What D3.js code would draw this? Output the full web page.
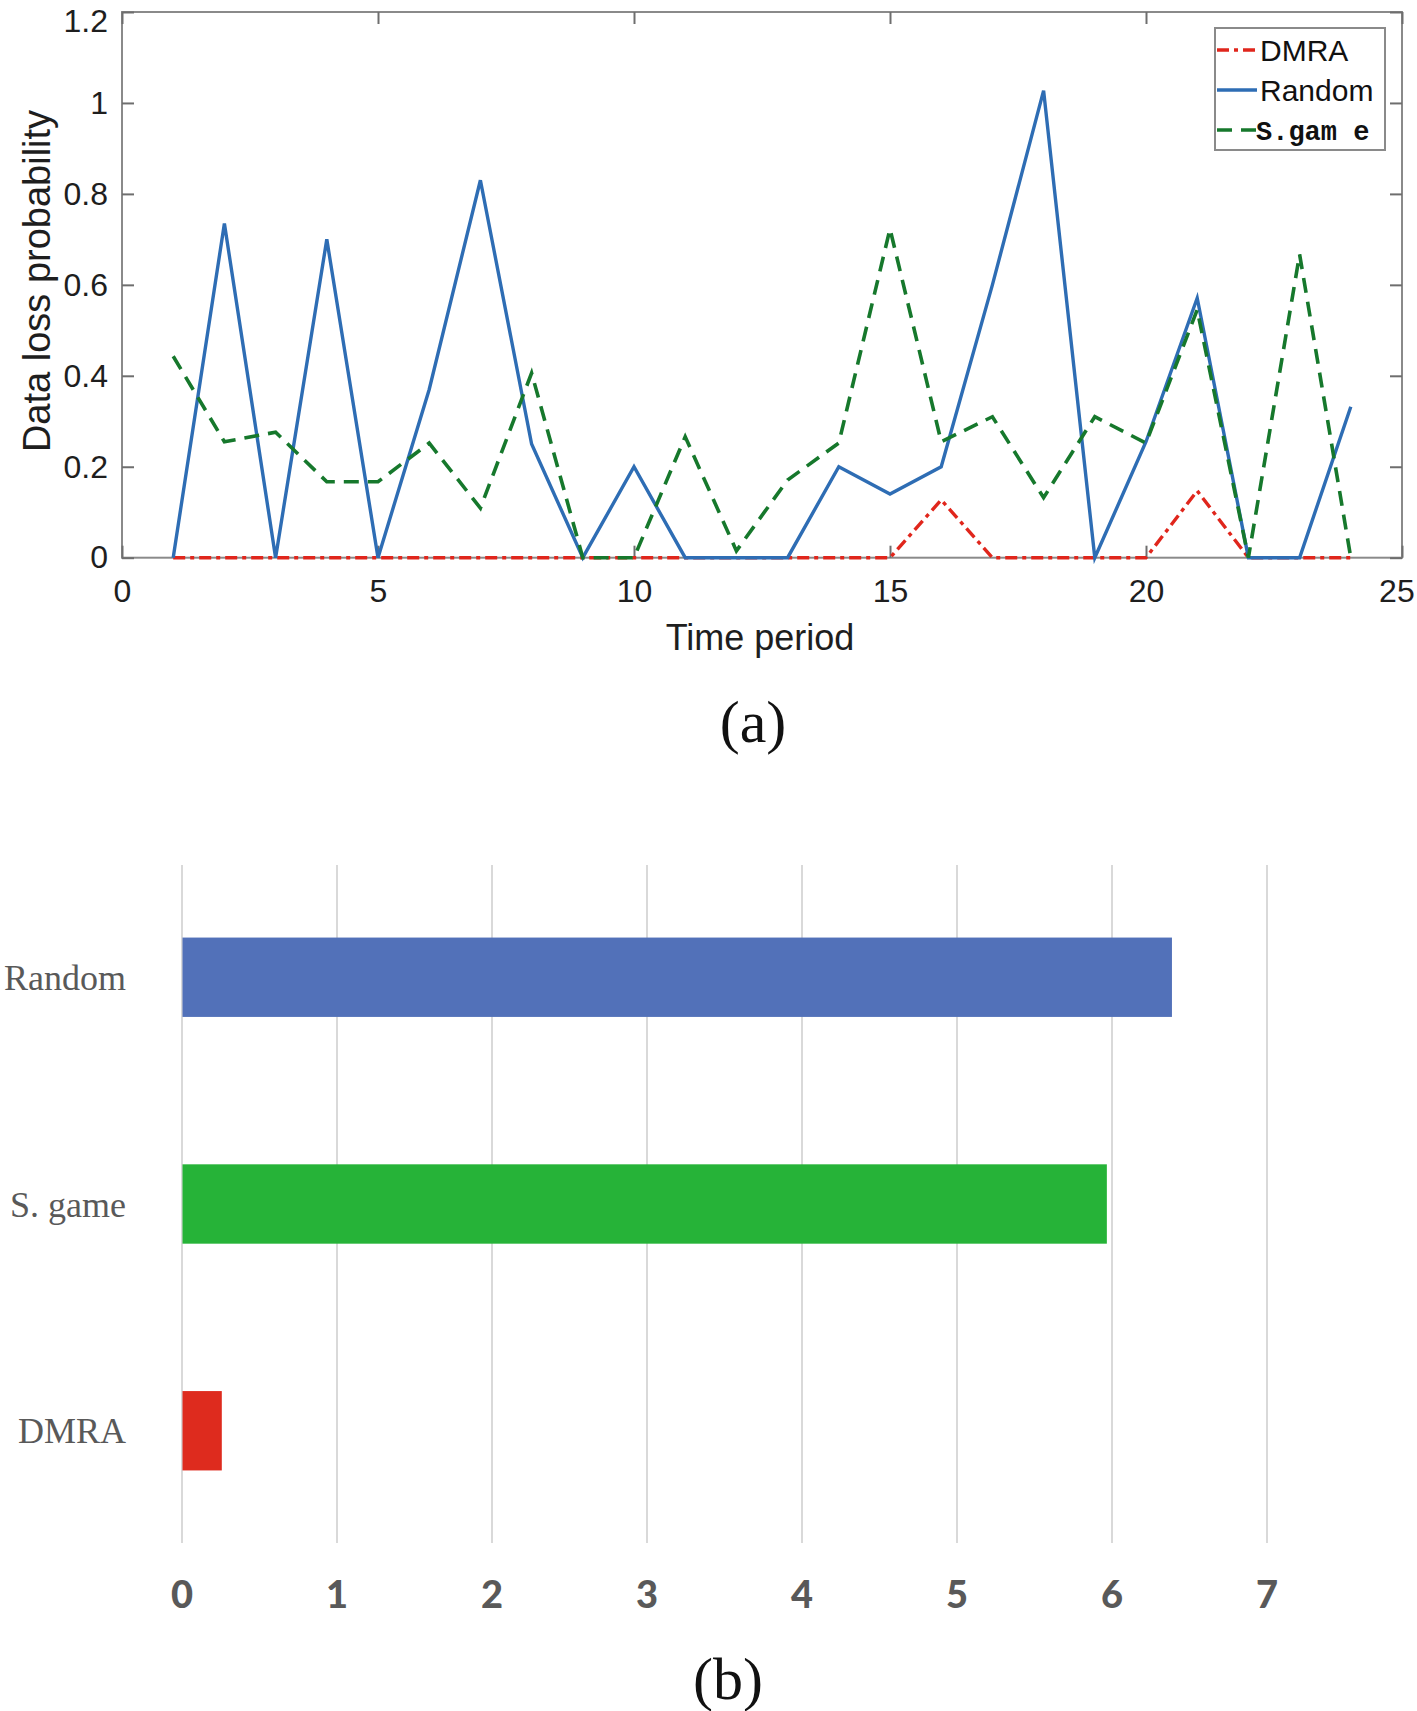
<!DOCTYPE html>
<html>
<head>
<meta charset="utf-8">
<script src="https://cdn.jsdelivr.net/npm/d3@7"></script>
<style>
	body { margin:0; background:#fff; }
	svg { display:block; }
</style>
</head>
<body>
<svg id="chart" width="1417" height="1711"></svg>
<script>
// (a) data loss probability per time period
var time_periods = [1,2,3,4,5,6,7,8,9,10,11,12,13,14,15,16,17,18,19,20,21,22,23,24];
var dmra_loss   = [0,0,0,0,0,0,0,0,0,0,0,0,0,0,0,0.127,0,0,0,0,0.147,0,0,0];
var random_loss = [0,0.735,0,0.70,0,0.37,0.83,0.25,0,0.20,0,0,0,0.20,0.14,0.20,0.60,1.027,0,0.255,0.571,0,0,0.332];
var sgame_loss  = [0.443,0.255,0.276,0.167,0.167,0.252,0.109,0.406,0,0,0.266,0.015,0.171,0.252,0.723,0.255,0.31,0.132,0.31,0.252,0.545,0,0.667,0];
var series_names = ["DMRA","Random","S.gam e"];
var loss_ticks = [0,0.2,0.4,0.6,0.8,1,1.2];
var period_ticks = [0,5,10,15,20,25];

// (b) totals per method
var methods = ["Random","S. game","DMRA"];
var method_totals = [6.39,5.97,0.26];
var total_ticks = [0,1,2,3,4,5,6,7];

var fig = {
	svg: d3.select("#chart"),
	sans: "'Liberation Sans', Arial, Helvetica, sans-serif",
	serif: "'Liberation Serif', 'Times New Roman', serif",
	styles: {
		"DMRA":    {color:"#e0261c", dash:"12,5,4,5", width:3.4},
		"Random":  {color:"#2e6db4", dash:null,       width:3.4},
		"S.gam e": {color:"#16782c", dash:"15,9",     width:3.6}
	},
	init: function() {
		fig.draw_lines();
		fig.draw_bars();
	},
	draw_lines: function() {
		var x = d3.scaleLinear().domain([0,25]).range([122,1402]);
		var y = d3.scaleLinear().domain([0,1.2]).range([557.7,12]);
		var g = fig.svg.append("g");

		//box
		g.append("rect")
			.attr("x", x(0)).attr("y", y(1.2))
			.attr("width", x(25)-x(0)).attr("height", y(0)-y(1.2))
			.attr("fill","none").attr("stroke","#8a8a8a").attr("stroke-width",2);

		var ax_left = g.append("g").attr("transform","translate("+x(0)+",0)")
			.call(d3.axisLeft(y).tickValues(loss_ticks).tickFormat(d3.format("~g")).tickSizeInner(-12).tickSizeOuter(0).tickPadding(14));
		var ax_bottom = g.append("g").attr("transform","translate(0,"+y(0)+")")
			.call(d3.axisBottom(x).tickValues(period_ticks).tickSizeInner(-12).tickSizeOuter(0).tickPadding(22));
		var ax_top = g.append("g").attr("transform","translate(0,"+y(1.2)+")")
			.call(d3.axisTop(x).tickValues(period_ticks).tickFormat("").tickSizeInner(-12).tickSizeOuter(0));
		var ax_right = g.append("g").attr("transform","translate("+x(25)+",0)")
			.call(d3.axisRight(y).tickValues(loss_ticks).tickFormat("").tickSizeInner(-12).tickSizeOuter(0));
		[ax_left, ax_bottom, ax_top, ax_right].forEach(function(a) {
			a.select(".domain").remove();
			a.selectAll(".tick line").attr("stroke","#6e6e6e").attr("stroke-width",2);
			a.selectAll(".tick text").attr("fill","#1e1e1e")
				.style("font-family", fig.sans).style("font-size","32px");
		});
		// keep the corner labels inside the page
		ax_left.selectAll(".tick text").filter(function(d){ return d == 1.2; }).attr("dy","0.6em");
		ax_bottom.selectAll(".tick text").filter(function(d){ return d == 25; }).attr("text-anchor","end").attr("dx","0.38em");

		g.append("text")
			.attr("x", 760).attr("y", 650)
			.attr("text-anchor","middle")
			.style("font-family", fig.sans).style("font-size","36px").attr("fill","#1e1e1e")
			.text("Time period");
		g.append("text")
			.attr("transform","translate(50,281) rotate(-90)")
			.attr("text-anchor","middle")
			.style("font-family", fig.sans).style("font-size","38px").attr("fill","#1e1e1e")
			.text("Data loss probability");

		// plot order follows the legend, S.game ends up on top
		var all_series = [dmra_loss, random_loss, sgame_loss];
		var line = d3.line()
			.x(function(d,i){ return x(time_periods[i]); })
			.y(function(d){ return y(d); });
		all_series.forEach(function(vals, k) {
			var st = fig.styles[series_names[k]];
			g.append("path")
				.datum(vals)
				.attr("d", line)
				.attr("fill","none")
				.attr("stroke", st.color)
				.attr("stroke-width", st.width)
				.attr("stroke-dasharray", st.dash)
				.attr("stroke-linejoin","miter");
		});

		//legend
		var lg = g.append("g");
		lg.append("rect")
			.attr("x",1215).attr("y",28).attr("width",170).attr("height",122)
			.attr("fill","#fff").attr("stroke","#8a8a8a").attr("stroke-width",2);
		var ly = d3.scalePoint().domain(series_names).range([50,130]);
		series_names.forEach(function(name) {
			var st = fig.styles[name];
			lg.append("line")
				.attr("x1",1217).attr("x2",1257)
				.attr("y1",ly(name)).attr("y2",ly(name))
				.attr("stroke",st.color).attr("stroke-width",st.width)
				.attr("stroke-dasharray", st.dash);
			var mono = name == "S.gam e";
			lg.append("text")
				.attr("x", mono ? 1256 : 1260).attr("y", ly(name))
				.attr("dy","0.36em")
				.style("font-family", mono ? "'Liberation Mono', 'Courier New', monospace" : fig.sans)
				.style("font-size", mono ? "27px" : "30px")
				.style("font-weight", mono ? "bold" : "normal")
				.attr("fill","#111")
				.text(name);
		});

		fig.svg.append("text")
			.attr("x",753).attr("y",742)
			.attr("text-anchor","middle")
			.style("font-family", fig.serif).style("font-size","60px").attr("fill","#111")
			.text("(a)");
	},
	draw_bars: function() {
		var top = 865, bottom = 1543;
		var x = d3.scaleLinear().domain([0,7]).range([181.5,1266.5]);
		var y = d3.scaleBand().domain(methods).range([top,bottom]).paddingInner(0.65).paddingOuter(0.32);
		var bar_colors = {"Random":"#5271b9", "S. game":"#26b338", "DMRA":"#de2b1e"};
		var g = fig.svg.append("g");

		//gridlines + tick labels
		var ax = g.append("g").attr("transform","translate(0,"+bottom+")")
			.call(d3.axisBottom(x).tickValues(total_ticks).tickFormat(d3.format("d")).tickSize(-(bottom-top)).tickPadding(38));
		ax.select(".domain").remove();
		ax.selectAll(".tick line").attr("stroke","#d9d9d9").attr("stroke-width",2);
		ax.selectAll(".tick text").attr("fill","#595959")
			.style("font-family","Lato, 'Open Sans', sans-serif")
			.style("font-size","38px").style("font-weight","900");

		g.selectAll("rect.bar")
			.data(methods)
			.enter().append("rect")
			.attr("class","bar")
			.attr("x", x(0)+1)
			.attr("y", function(d){ return y(d); })
			.attr("width", function(d,i){ return x(method_totals[i])-x(0)-1; })
			.attr("height", y.bandwidth())
			.attr("fill", function(d){ return bar_colors[d]; });

		g.selectAll("text.cat")
			.data(methods)
			.enter().append("text")
			.attr("class","cat")
			.attr("x",126)
			.attr("y", function(d){ return y(d)+y.bandwidth()/2; })
			.attr("dy","0.35em")
			.attr("text-anchor","end")
			.style("font-family", fig.serif).style("font-size","36px").attr("fill","#595959")
			.text(function(d){ return d; });

		fig.svg.append("text")
			.attr("x",728).attr("y",1699)
			.attr("text-anchor","middle")
			.style("font-family", fig.serif).style("font-size","60px").attr("fill","#111")
			.text("(b)");
	}
};

fig.init();
</script>
</body>
</html>
